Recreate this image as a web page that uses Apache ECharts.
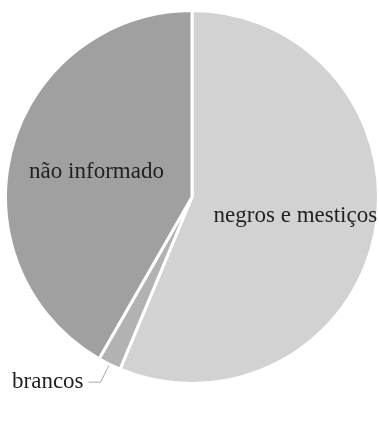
<!DOCTYPE html>
<html><head><meta charset="utf-8">
<script src="https://cdn.jsdelivr.net/npm/echarts@6/dist/echarts.min.js"></script>
<style>html,body{margin:0;padding:0;background:#fff}#c{width:379px;height:421px}</style>
</head><body><div id="c"></div>
<script>
const categories = ['negros e mestiços', 'brancos', 'não informado'];
const values = [56.3, 2.0, 41.7];
const valueLabels = ['56,3%', '2,0%', '41,7%'];
const colors = ['#d2d2d2', '#b2b2b2', '#a0a0a0'];

const chart = echarts.init(document.getElementById('c'));
const font = 'Liberation Serif';
const txt = '#231f20';
// label box paddings used to nudge text away from the default anchor
const namePad = [[0, 0, 44, 18], [0, 0, 10, 0], [0, 5, 70, 0]];
const valPad = [[18, 0, 0, 18], [48, 0, 0, 0], [2, 5, 0, 0]];
const common = { type: 'pie', center: [192, 197], radius: 186.5, startAngle: 90, clockwise: true,
  avoidLabelOverlap: false, silent: true };

const nameData = categories.map((c, i) => ({
  name: c, value: values[i], itemStyle: { color: colors[i] },
  label: { position: i === 1 ? 'outside' : 'inside', fontFamily: font, padding: namePad[i] },
  labelLine: i === 1 ? { show: true, length: 20, length2: 12, lineStyle: { color: '#a8a8a8', width: 1 } } : { show: false }
}));
const valData = categories.map((c, i) => ({
  name: c, value: values[i],
  label: { position: i === 1 ? 'outside' : 'inside', fontFamily: font, padding: valPad[i] },
  labelLine: { show: false, length: 20, length2: 12 }
}));

chart.setOption({
  animation: false,
  series: [
    Object.assign({}, common, {
      itemStyle: { borderColor: '#fff', borderWidth: 3 },
      label: { fontSize: 23, color: txt },
      data: nameData
    }),
    Object.assign({}, common, {
      itemStyle: { color: 'rgba(0,0,0,0)', borderWidth: 0 },
      label: { fontSize: 33, color: txt, formatter: p => valueLabels[p.dataIndex] },
      data: valData
    })
  ]
});
</script></body></html>
